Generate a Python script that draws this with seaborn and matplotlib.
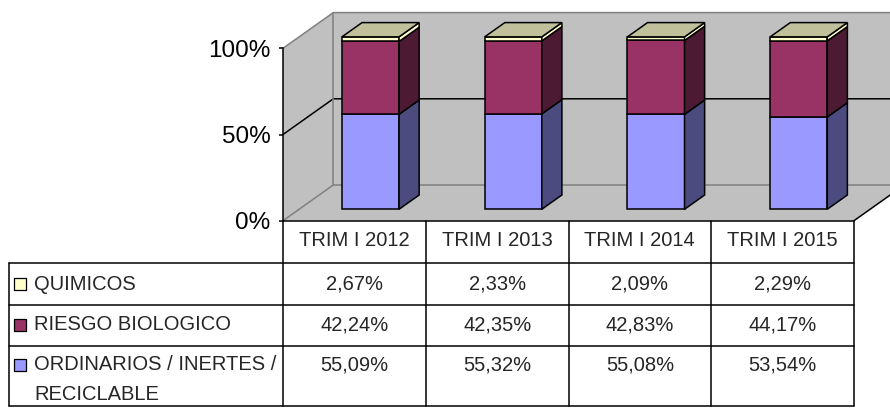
import numpy as np
import matplotlib
matplotlib.use('Agg')
import matplotlib.pyplot as plt
from matplotlib.patches import Polygon
from matplotlib.ticker import PercentFormatter
import seaborn as sns

categories = ['TRIM I 2012', 'TRIM I 2013', 'TRIM I 2014', 'TRIM I 2015']
ordinarios = [55.09, 55.32, 55.08, 53.54]
riesgo = [42.24, 42.35, 42.83, 44.17]
quimicos = [2.67, 2.33, 2.09, 2.29]

series_names = ['QUIMICOS', 'RIESGO BIOLOGICO', 'ORDINARIOS / INERTES /\nRECICLABLE']

sns.set_style('white')
plt.rcParams['font.family'] = ['Liberation Sans', 'DejaVu Sans']

W, H = 890, 408
fig = plt.figure(figsize=(W / 100, H / 100), dpi=100)
ax = fig.add_axes([0, 0, 1, 1])

# reference pixel layout -> data units (x: category, y: percent)
X0, XPX = 283.0, 142.75
Y0, YPX = 220.7, 1.724


def px2x(px):
    return (px - X0) / XPX - 0.5


def py2y(py):
    return (Y0 - py) / YPX


ax.set_xlim(px2x(0), px2x(W))
ax.set_ylim(py2y(H), py2y(0))

# 3d depth of the walls
Dx, Dy = 50.3 / XPX, 35.7 / YPX
xl, xr = -0.5, 3.5
xfar = px2x(W) + 1

wall = '#c0c0c0'
edge_grey = '#808080'
# back wall, left wall, floor
ax.add_patch(Polygon([(xl + Dx, Dy), (xfar, Dy), (xfar, 100 + Dy), (xl + Dx, 100 + Dy)],
                     closed=True, fc=wall, ec='none', zorder=1))
ax.add_patch(Polygon([(xl, 0), (xl + Dx, Dy), (xl + Dx, 100 + Dy), (xl, 100)],
                     closed=True, fc=wall, ec='none', zorder=1))
ax.add_patch(Polygon([(xl, 0), (xr, 0), (xr + Dx, Dy), (xl + Dx, Dy)],
                     closed=True, fc=wall, ec='none', zorder=1))

lw = 1.1
ax.plot([xl, xl + Dx, xfar], [100, 100 + Dy, 100 + Dy], color=edge_grey, lw=lw, zorder=2)
ax.plot([xl, xl + Dx, xfar], [50, 50 + Dy, 50 + Dy], color='black', lw=lw, zorder=2)
ax.plot([xl, xl + Dx, xr + Dx], [0, Dy, Dy], color=edge_grey, lw=lw, zorder=2)
ax.plot([xl + Dx, xl + Dx], [Dy, 100 + Dy], color=edge_grey, lw=lw, zorder=2)
ax.plot([xr, xr + Dx], [0, Dy], color='black', lw=lw, zorder=2)

# bars
front = ['#ffffcc', '#993366', '#9999ff']
side = ['#ffffcc', '#4c1a33', '#4b4b80']
top_col = '#c0c09a'
f0, fd = 0.32, 0.40
bw = 0.40
x = np.arange(len(categories))
bx = x + f0 * Dx
stack = [ordinarios, riesgo, quimicos]
colors_front = [front[2], front[1], front[0]]
colors_side = [side[2], side[1], side[0]]
bottom = np.zeros(len(categories))
sdx, sdy = fd * Dx, fd * Dy
for vals, cf, cs in zip(stack, colors_front, colors_side):
    vals = np.array(vals)
    ax.bar(bx, vals, bottom=bottom + f0 * Dy, width=bw, color=cf,
           edgecolor='black', linewidth=lw, zorder=4)
    for i in range(len(categories)):
        r = bx[i] + bw / 2
        b = bottom[i] + f0 * Dy
        t = b + vals[i]
        ax.add_patch(Polygon([(r, b), (r + sdx, b + sdy), (r + sdx, t + sdy), (r, t)],
                             closed=True, fc=cs, ec='black', lw=lw, zorder=4))
    bottom = bottom + vals
for i in range(len(categories)):
    l, r = bx[i] - bw / 2, bx[i] + bw / 2
    t = bottom[i] + f0 * Dy
    ax.add_patch(Polygon([(l, t), (r, t), (r + sdx, t + sdy), (l + sdx, t + sdy)],
                         closed=True, fc=top_col, ec='black', lw=lw, zorder=5))

# value axis
for s in ['top', 'right', 'bottom']:
    ax.spines[s].set_visible(False)
ax.spines['left'].set_position(('data', xl))
ax.spines['left'].set_bounds(0, 100)
ax.spines['left'].set_linewidth(lw)
ax.spines['left'].set_color('black')
ax.spines['left'].set_zorder(6)
ax.set_yticks([0, 50, 100])
ax.yaxis.set_major_formatter(PercentFormatter(decimals=0))
ax.tick_params(axis='y', direction='out', length=3, width=lw, pad=6,
               labelsize=17.5, colors='black', left=True)
ax.set_xticks([])

# data table
rows_py = [Y0, 262.5, 304.8, 345.8, 406.0]
rows = [py2y(p) for p in rows_py]
tl = px2x(8.5)
tkw = dict(color='black', lw=lw, zorder=6, clip_on=False)
ax.plot([xl, xr], [rows[0], rows[0]], **tkw)
for yy in rows[1:]:
    ax.plot([tl, xr], [yy, yy], **tkw)
ax.plot([tl, tl], [rows[1], rows[4]], **tkw)
for xx in np.arange(xl, xr + 0.01, 1.0):
    ax.plot([xx, xx], [rows[0], rows[4]], **tkw)

fs = 14.5
for i, c in enumerate(categories):
    ax.text(i, py2y(241), c, ha='center', va='center', fontsize=fs)

table_vals = [quimicos, riesgo, ordinarios]
text_py = [284, 325, 365]
for vals, ty in zip(table_vals, text_py):
    for i, v in enumerate(vals):
        ax.text(i, py2y(ty), f'{v:.2f}'.replace('.', ',') + '%',
                ha='center', va='center', fontsize=fs)

for name, col, ty in zip(series_names, front, text_py):
    ax.scatter([px2x(20)], [py2y(ty)], marker='s', s=70, color=col,
               edgecolor='black', linewidth=0.9, zorder=7, clip_on=False)
    lines = name.split('\n')
    for k, ln in enumerate(lines):
        ax.text(px2x(34), py2y(ty + 29.5 * k), ln, ha='left', va='center', fontsize=fs)

fig.savefig('out.png', dpi=100, facecolor='white')
